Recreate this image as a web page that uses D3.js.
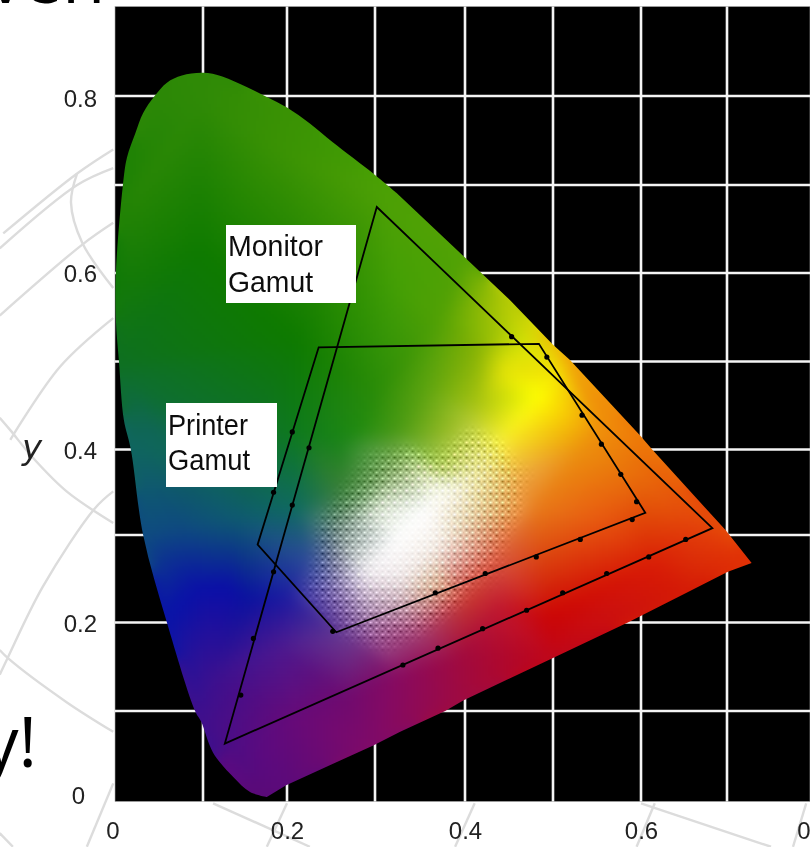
<!DOCTYPE html>
<html><head><meta charset="utf-8">
<script src="https://cdn.jsdelivr.net/npm/d3@7"></script>
<style>html,body{margin:0;padding:0;background:#fff;overflow:hidden}svg{display:block}</style>
</head><body>
<svg id="c" width="810" height="847"></svg>
<script>
// Chart values (chromaticity coordinates)
const gridX = [0.1,0.2,0.3,0.4,0.5,0.6,0.7];
const gridY = [0.1,0.2,0.3,0.4,0.5,0.6,0.7,0.8];
const tickLabels = [0,0.2,0.4,0.6,0.8];
const locusX = [.176,.156,.136,.112,.098,.091,.059,.032,.018,.010,.0045,.001,.001,.009,.0136,.023,.032,.045,.059,.076,.100,.123,.152,.176,.200,.226,.252,.298,.324,.451,.5,.519,.599,.613,.698,.728,.701,.653,.585,.5,.398,.378,.328,.298,.199];
const locusY = [.005,.0105,.027,.054,.088,.100,.200,.300,.400,.434,.500,.547,.600,.700,.731,.758,.781,.800,.815,.823,.826,.822,.810,.799,.787,.769,.748,.713,.691,.5695,.519,.502,.416,.400,.306,.268,.258,.234,.200,.160,.112,.100,.077,.062,.018];
const monitorX = [.302,.683,.126];
const monitorY = [.675,.308,.064];
const printerX = [.236,.484,.605,.256,.165];
const printerY = [.516,.520,.326,.189,.289];
const beadX = [.331,.37,.42,.47,.511,.561,.609,.652,.367,.423,.481,.531,.59,.595,.577,.555,.533,.493,.453,.145,.16,.184,.206,.225,.184,.206,.252];
const beadY = [.152,.171,.193,.214,.234,.256,.275,.295,.234,.256,.275,.295,.318,.339,.371,.406,.439,.505,.528,.118,.182,.258,.335,.402,.35,.42,.19];
// Colour read at sample points of the diagram
const sampleX = [.097,.017,.188,.268,.308,.097,.017,.211,.011,.04,.097,.154,.211,.262,.074,.142,.097,.154,.063,.108,.165,.268,.393,.495,.609,.718,.666,.598,.552,.507,.473,.484,.444,.416,.37,.325,.404,.45,.416,.382,.325,.29,.359,.256,.325,.29,.262,.211,.222,.256,.199,.325,.29,.268,.37,.438,.484,.461,.347,.438,.325,.211,.188,.404,.552,.53,
  .30,.37,.36,.41,.33,
  .325,.382,.37,.28,.359,.302,.416,.13,.44,
  .176,.098,.059,.032,.018,.0045,.001,.009,.045,.1,.2,.298,.4,.451,.5,.519,.599,.698,.728,.653,.5,.398,.298,.199];
const sampleY = [.795,.682,.739,.739,.688,.625,.591,.523,.478,.421,.399,.41,.421,.41,.308,.319,.24,.228,.217,.138,.047,.115,.16,.206,.262,.27,.308,.365,.421,.489,.523,.461,.489,.512,.546,.591,.433,.421,.376,.353,.296,.257,.331,.308,.376,.342,.353,.33,.274,.24,.228,.217,.211,.183,.24,.274,.33,.365,.183,.217,.138,.092,.172,.228,.319,.398,
  .33,.29,.37,.33,.25,
  .421,.421,.376,.421,.467,.467,.455,.24,.53,
  .005,.088,.2,.3,.4,.5,.6,.7,.8,.826,.787,.713,.62,.5695,.519,.502,.416,.306,.268,.234,.16,.112,.062,.018];
const sampleColor = ["#2f8a06","#268505","#3a9204","#409a04","#4da005","#0e7a00","#147a08","#0e7a00","#0e6e30","#0f6558","#0f6a50","#0e7030","#0e7a1c","#1a8418","#0e4a80","#0e5a70","#0a10a8","#0a12a0","#0a14a8","#3a1090","#5a0a80","#700a6f","#a00a40","#cc0505","#d81a05","#e03005","#e3400a","#e86a0a","#f0900a","#f4e005","#d8e405","#ffff00","#e4e408","#8ab405","#50a005","#45a005","#b0c830","#f8f020","#f8f0a0","#fffff0","#ffffff","#f4f0f4","#ffffff","#708a80","#90b070","#80a878","#3a8038","#0f6a60","#2a4a98","#8878b0","#1c1aa0","#c0a0b0","#a88ab0","#6a3a90","#e0b090","#d85a40","#e87818","#eca848","#a03a70","#c01830","#880a60","#680a78","#4a1890","#c83830","#e85a10","#ec900e",
  "#d8e4d0","#f8f0e8","#e8f0c0","#f0d8a8","#f0e8e8",
  "#4a9a15","#98bc25","#b0cc60","#208a10","#60a510","#2a8c08","#a8c410","#0a0ea8","#a8c805",
  "#5a0a78","#3f0f8c","#0a14a8","#0e4c80","#0f6560","#0e7020","#107a06","#1e8205","#2c8806","#2f8a06","#3a9204","#48a004","#52a205","#b8cc05","#ecc005","#f0a008","#ee7a08","#e64a08","#e03005","#d41a05","#c00518","#a00a40","#800a68","#5c0a7a"];
// Faint backdrop curves behind the chart
const backdropX = [[-.127,-.043,-.002],[-.131,-.043,-.002],[-.131,-.0375,-.002],[-.043,-.05,-.0375,-.002],[-.119,-.0625,-.002],[-.131,-.119,-.093,-.055,-.002],[-.002,-.023,-.082,-.122,-.131],[-.131,-.122,-.055,-.002],[-.002,-.032],[-.131,-.116],[.2,.176],[.112,.226],[.411,.389],[.6,.75],[.616,.595],[.79,.775]];
const backdropY = [[.645,.713,.74],[.628,.7,.719],[.552,.632,.657],[.713,.68,.635,.583],[.411,.494,.549],[.436,.422,.39,.351,.314],[.351,.331,.241,.16,.141],[.169,.16,.11,.077],[.02,-.05],[-.035,-.05],[-.002,-.05],[-.002,-.05],[-.002,-.05],[-.002,-.05],[-.002,-.05],[-.002,-.05]];

const x = d3.scaleLinear().domain([0,.1,.2,.3,.4,.5,.6,.7,.8]).range([115,203,287,375,465,553,641,727,815]);
const y = d3.scaleLinear().domain([0,.1,.2,.3,.4,.5,.6,.7,.8]).range([801.5,711,622.5,535,449.5,361.5,273,185,96]);
const svg = d3.select("#c");
const defs = svg.append("defs");
defs.append("filter").attr("id","soft").append("feGaussianBlur").attr("stdDeviation",0.45);
defs.append("filter").attr("id","soft2").append("feGaussianBlur").attr("stdDeviation",0.4);
const line = d3.line().x(d=>x(d[0])).y(d=>y(d[1]));
const smooth = d3.line().x(d=>x(d[0])).y(d=>y(d[1])).curve(d3.curveCatmullRom);

// backdrop
svg.append("g").selectAll("path").data(backdropX.map((xs,i)=>d3.zip(xs,backdropY[i]))).join("path")
  .attr("d",smooth).attr("fill","none").attr("stroke","#dcdcdc").attr("stroke-width",2.4);

// big cropped heading letters
svg.append("text").attr("x",-12).attr("y",3).attr("font-family","Open Sans").attr("font-size",70).attr("fill","#000").text("ven");
svg.append("text").attr("x",37).attr("y",767).attr("text-anchor","end").attr("font-family","Open Sans").attr("font-size",70).attr("fill","#000").text("y!");

// plot background and grid
svg.append("rect").attr("x",x(0)).attr("y",6.5).attr("width",810-x(0)).attr("height",y(0)-6.5).attr("fill","#000").attr("stroke","#aaa").attr("stroke-width",0.6);
svg.append("g").selectAll("line").data(gridX).join("line")
  .attr("x1",d=>x(d)).attr("x2",d=>x(d)).attr("y1",6.5).attr("y2",y(0)).attr("stroke","#f4f4f4").attr("stroke-width",2.6);
svg.append("g").selectAll("line").data(gridY).join("line")
  .attr("x1",x(0)).attr("x2",810).attr("y1",d=>y(d)).attr("y2",d=>y(d)).attr("stroke","#f4f4f4").attr("stroke-width",2.6);

// colour field: linear interpolation over a triangulation of the samples
const locus = d3.zip(locusX,locusY);
const locusPath = smooth(locus.slice(0,29)) + "L" + line(locus.slice(29)).slice(1) + "Z";
defs.append("clipPath").attr("id","loc").append("path").attr("d",locusPath);
const samples = sampleX.map((sx,i)=>{const c=d3.rgb(sampleColor[i]);return {px:x(sx),py:y(sampleY[i]),r:c.r,g:c.g,b:c.b};});
const del = d3.Delaunay.from(samples,d=>d.px,d=>d.py);
const tris = [];
for(let t=0;t<del.triangles.length;t+=3){
  const a=samples[del.triangles[t]],b=samples[del.triangles[t+1]],c=samples[del.triangles[t+2]];
  tris.push({a,b,c,den:(b.py-c.py)*(a.px-c.px)+(c.px-b.px)*(a.py-c.py)});
}
const cell=3, x0=105, y0=60, W=Math.ceil((765-x0)/cell), H=Math.ceil((810-y0)/cell);
let R=new Float32Array(W*H),G=new Float32Array(W*H),B=new Float32Array(W*H);
for(let j=0;j<H;j++)for(let i=0;i<W;i++){
  const px=x0+(i+.5)*cell,py=y0+(j+.5)*cell,k=j*W+i;
  let hit=false;
  for(const t of tris){
    const u=((t.b.py-t.c.py)*(px-t.c.px)+(t.c.px-t.b.px)*(py-t.c.py))/t.den;
    if(u<-1e-6)continue;
    const v=((t.c.py-t.a.py)*(px-t.c.px)+(t.a.px-t.c.px)*(py-t.c.py))/t.den;
    if(v<-1e-6)continue;
    const w=1-u-v;
    if(w<-1e-6)continue;
    R[k]=u*t.a.r+v*t.b.r+w*t.c.r;G[k]=u*t.a.g+v*t.b.g+w*t.c.g;B[k]=u*t.a.b+v*t.b.b+w*t.c.b;
    hit=true;break;
  }
  if(!hit){const s=samples[del.find(px,py)];R[k]=s.r;G[k]=s.g;B[k]=s.b;}
}
[R,G,B].forEach(A=>d3.blur2({data:A,width:W,height:H},1.5));
const cv=document.createElement("canvas");cv.width=W;cv.height=H;
const ctx=cv.getContext("2d");const img=ctx.createImageData(W,H);
const bayer=[[0,8,2,10],[12,4,14,6],[3,11,1,9],[15,7,13,5]];
for(let j=0;j<H;j++)for(let i=0;i<W;i++){
  const k=j*W+i,r=R[k],g=G[k],b=B[k];
  const m=Math.min(r,g,b)/255, amp=160*4*m*(1-m)*Math.max(0,Math.min(1,(m-.2)/.15)), t=(bayer[j%4][i%4]+.5)/16-.5;
  img.data[k*4]=r+t*amp;img.data[k*4+1]=g+t*amp;img.data[k*4+2]=b+t*amp;img.data[k*4+3]=255;
}
ctx.putImageData(img,0,0);
svg.append("image").attr("x",x0).attr("y",y0).attr("width",W*cell).attr("height",H*cell)
  .attr("preserveAspectRatio","none").attr("href",cv.toDataURL()).attr("clip-path","url(#loc)");

// gamuts
const closed=(xs,ys)=>line(d3.zip(xs,ys))+"Z";
svg.append("path").attr("d",closed(monitorX,monitorY)).attr("fill","none").attr("stroke","#000").attr("stroke-width",1.8);
svg.append("path").attr("d",closed(printerX,printerY)).attr("fill","none").attr("stroke","#000").attr("stroke-width",1.8);
svg.append("g").selectAll("circle").data(d3.zip(beadX,beadY)).join("circle")
  .attr("cx",d=>x(d[0])).attr("cy",d=>y(d[1])).attr("r",2.6).attr("fill","#000");

// label boxes
const boxes=[{x:226,y:225,w:130,h:78,l:["Monitor","Gamut"],b:[256,292],tl:[95,85]},{x:166,y:403,w:111,h:84,l:["Printer","Gamut"],b:[435,470],tl:[80,82]}];
boxes.forEach(o=>{
  svg.append("rect").attr("x",o.x).attr("y",o.y).attr("width",o.w).attr("height",o.h).attr("fill","#fff");
  o.l.forEach((t,i)=>svg.append("text").attr("x",o.x+2).attr("y",o.b[i]).attr("font-family","Liberation Sans").attr("font-size",30)
    .attr("textLength",o.tl[i]).attr("lengthAdjust","spacingAndGlyphs").attr("fill","#111").attr("filter","url(#soft2)").text(t));
});

// axes
const fmt=d=>d===0?"0":d.toFixed(1);
const gx=svg.append("g").attr("transform","translate(0,830)").call(d3.axisBottom(x).tickValues(tickLabels).tickFormat(fmt).tickSize(0).tickPadding(0));
const gy=svg.append("g").attr("transform","translate(97,0)").call(d3.axisLeft(y).tickValues(tickLabels.concat().reverse()).tickFormat(fmt).tickSize(0).tickPadding(0));
gx.select(".domain").remove();gy.select(".domain").remove();
gx.selectAll("text").attr("y",0).attr("dy","0.36em");
gy.selectAll("text").attr("x",0).attr("dy","0.36em");
gy.selectAll(".tick").filter(d=>d===0).select("text").attr("x",-12).attr("dy","0.1em");
gy.selectAll(".tick").filter(d=>d===0.8).select("text").attr("dy","0.44em");
gx.selectAll(".tick").filter(d=>d===0).attr("transform","translate(113,0)");
gx.selectAll(".tick").filter(d=>d===0.8).attr("transform","translate(814,0)");
svg.selectAll(".tick text").attr("font-family","Liberation Sans").attr("font-size",24).attr("fill","#222").attr("filter","url(#soft)");
svg.append("text").attr("x",32).attr("y",459).attr("text-anchor","middle").attr("font-family","DejaVu Sans").attr("font-style","italic").attr("font-size",34).attr("fill","#222").attr("filter","url(#soft2)").text("y");
</script>
</body></html>
